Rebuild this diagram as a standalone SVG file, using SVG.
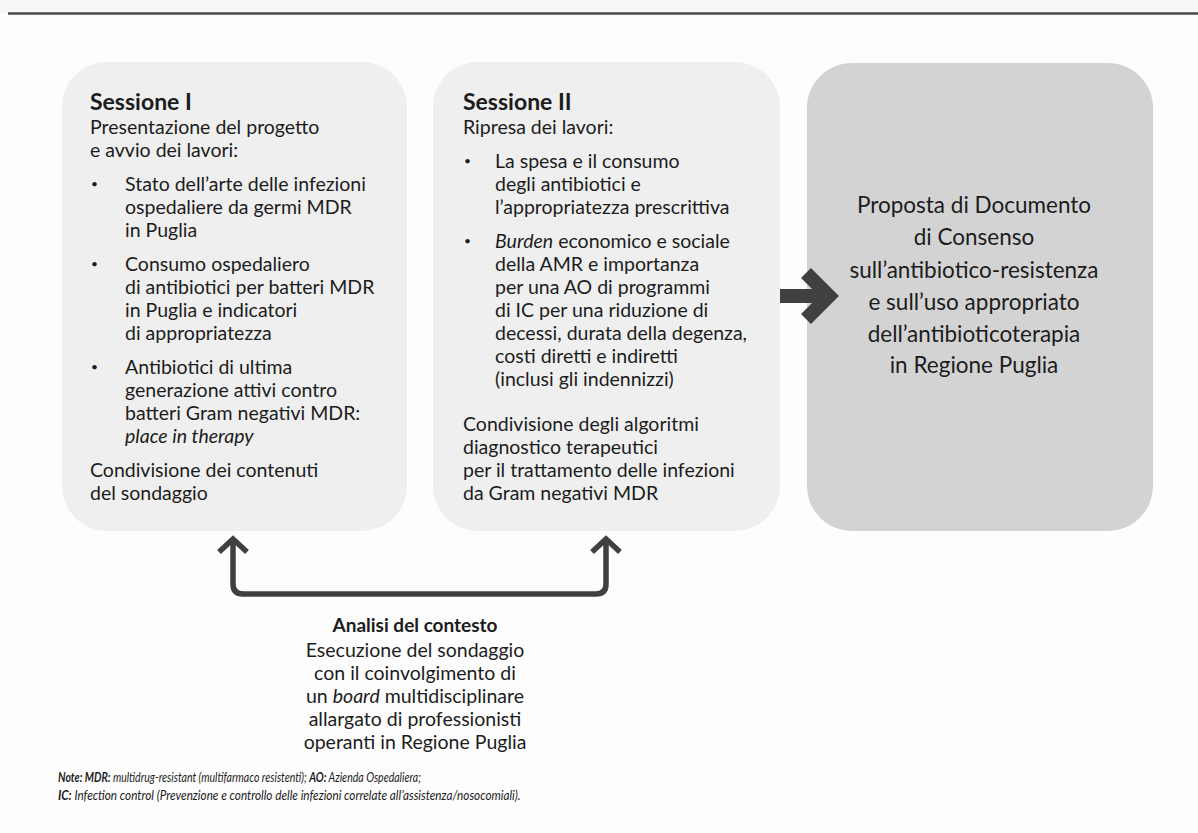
<svg xmlns="http://www.w3.org/2000/svg" width="1198" height="833" viewBox="0 0 1198 833">
<style>
text{font-family:Lato,"Open Sans","Noto Sans",sans-serif;fill:#1c1c1c}
.t{font-size:19.5px}
.h{font-size:23px;font-weight:bold}
.c3{font-size:22.5px;text-anchor:middle}
.cb{font-size:19.5px;text-anchor:middle}
.cbh{font-size:19px;text-anchor:middle;font-weight:bold}
.bul{font-size:12px}
.it{font-style:italic}
.note{font-size:13.5px;font-style:italic}
.b{font-weight:bold}
.lbox{fill:#efefef}
.dbox{fill:#d3d3d3}
.conn{fill:none;stroke:#404040}
</style>
<rect x="0" y="0" width="1198" height="833" fill="#fdfdfd"/>
<rect x="0" y="0" width="1198" height="13" fill="#f6f6f6"/>
<line x1="8" y1="13.5" x2="1198" y2="13.5" stroke="#4a4a4a" stroke-width="2.5"/>

<g id="sessione1">
<rect class="lbox" x="62" y="62" width="345" height="469" rx="45" ry="45"/>
<text class="h" x="90" y="110">Sessione I</text>
<text class="t" x="90" y="134">Presentazione del progetto</text>
<text class="t" x="90" y="157">e avvio dei lavori:</text>
<text class="bul" x="91" y="188">•</text>
<text class="t" x="125" y="191">Stato dell’arte delle infezioni</text>
<text class="t" x="125" y="214">ospedaliere da germi MDR</text>
<text class="t" x="125" y="237">in Puglia</text>
<text class="bul" x="91" y="268">•</text>
<text class="t" x="125" y="271">Consumo ospedaliero</text>
<text class="t" x="125" y="294">di antibiotici per batteri MDR</text>
<text class="t" x="125" y="317">in Puglia e indicatori</text>
<text class="t" x="125" y="340">di appropriatezza</text>
<text class="bul" x="91" y="371">•</text>
<text class="t" x="125" y="374">Antibiotici di ultima</text>
<text class="t" x="125" y="397">generazione attivi contro</text>
<text class="t" x="125" y="420">batteri Gram negativi MDR:</text>
<text class="t it" x="125" y="443">place in therapy</text>
<text class="t" x="90" y="477">Condivisione dei contenuti</text>
<text class="t" x="90" y="500">del sondaggio</text>
</g>

<g id="sessione2">
<rect class="lbox" x="433" y="62" width="347" height="469" rx="45" ry="45"/>
<text class="h" x="463" y="110">Sessione II</text>
<text class="t" x="463" y="134">Ripresa dei lavori:</text>
<text class="bul" x="464" y="165">•</text>
<text class="t" x="495" y="168">La spesa e il consumo</text>
<text class="t" x="495" y="191">degli antibiotici e</text>
<text class="t" x="495" y="214">l’appropriatezza prescrittiva</text>
<text class="bul" x="464" y="245">•</text>
<text class="t" x="495" y="248"><tspan class="it">Burden</tspan> economico e sociale</text>
<text class="t" x="495" y="271">della AMR e importanza</text>
<text class="t" x="495" y="294">per una AO di programmi</text>
<text class="t" x="495" y="317">di IC per una riduzione di</text>
<text class="t" x="495" y="340">decessi, durata della degenza,</text>
<text class="t" x="495" y="363">costi diretti e indiretti</text>
<text class="t" x="495" y="386">(inclusi gli indennizzi)</text>
<text class="t" x="463" y="431">Condivisione degli algoritmi</text>
<text class="t" x="463" y="454">diagnostico terapeutici</text>
<text class="t" x="463" y="477">per il trattamento delle infezioni</text>
<text class="t" x="463" y="500">da Gram negativi MDR</text>
</g>

<g id="proposta">
<rect class="dbox" x="807" y="63" width="346" height="468" rx="45" ry="45"/>
<text class="c3" x="974" y="213">Proposta di Documento</text>
<text class="c3" x="974" y="245">di Consenso</text>
<text class="c3" x="974" y="278">sull’antibiotico-resistenza</text>
<text class="c3" x="974" y="310">e sull’uso appropriato</text>
<text class="c3" x="974" y="342">dell’antibioticoterapia</text>
<text class="c3" x="974" y="373">in Regione Puglia</text>
</g>

<g id="analisi">
<text class="cbh" x="415" y="632">Analisi del contesto</text>
<text class="cb" x="415" y="657">Esecuzione del sondaggio</text>
<text class="cb" x="415" y="680">con il coinvolgimento di</text>
<text class="cb" x="415" y="703">un <tspan class="it">board</tspan> multidisciplinare</text>
<text class="cb" x="415" y="726">allargato di professionisti</text>
<text class="cb" x="415" y="749">operanti in Regione Puglia</text>
</g>

<g id="connectors">
<line class="conn" x1="780" y1="296" x2="824" y2="296" stroke-width="14"/>
<polyline class="conn" points="806,273 829,296 806,319" stroke-width="14" stroke-linejoin="miter"/>
<path class="conn" d="M233,541 V584 Q233,594 243,594 H596 Q606,594 606,584 V541" stroke-width="5.5"/>
<polyline class="conn" points="219,552 233,539 247,552" stroke-width="5.5" stroke-linejoin="miter"/>
<polyline class="conn" points="592,552 606,539 620,552" stroke-width="5.5" stroke-linejoin="miter"/>
</g>

<g id="note">
<text class="note" transform="translate(58,782) scale(0.78,1)"><tspan class="b">Note: MDR:</tspan> multidrug-resistant (multifarmaco resistenti); <tspan class="b">AO:</tspan> Azienda Ospedaliera;</text>
<text class="note" transform="translate(58,800) scale(0.87,1)"><tspan class="b">IC:</tspan> Infection control (Prevenzione e controllo delle infezioni correlate all’assistenza/nosocomiali).</text>
</g>
</svg>
